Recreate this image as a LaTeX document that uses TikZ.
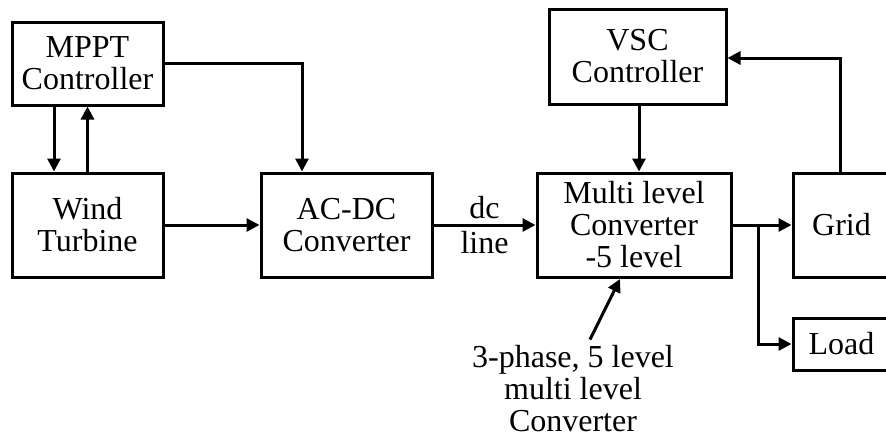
\documentclass[tikz,border=0pt]{standalone}
\usepackage{fontspec}
\setmainfont{Liberation Serif}
\usetikzlibrary{arrows.meta}
\begin{document}
\begin{tikzpicture}[x=1pt,y=-1pt,
  box/.style={draw,line width=3pt,inner sep=0pt,align=center,font=\fontsize{32}{32}\selectfont},
  arr/.style={line width=3pt,-{Triangle[length=13pt,width=13pt]}},
  lbl/.style={inner sep=0pt,align=center,font=\fontsize{32}{32}\selectfont}]
\useasboundingbox (0,0) rectangle (886,439);
\clip (0,0) rectangle (886,439);
\node[box,minimum width=151pt,minimum height=83pt] (mppt) at (87.5,63.5) {MPPT\\Controller};
\node[box,minimum width=151pt,minimum height=104pt] (wind) at (87.5,225) {Wind\\Turbine};
\node[box,minimum width=171pt,minimum height=104pt] (acdc) at (346.5,225) {AC-DC\\Converter};
\node[box,minimum width=177pt,minimum height=95pt] (vsc) at (637.5,56.5) {VSC\\Controller};
\node[box,minimum width=194pt,minimum height=104pt] (mlc) at (634,225) {Multi level\\Converter\\-5 level};
\node[box,minimum width=97pt,minimum height=104pt] (grid) at (841.5,225) {Grid};
\node[box,minimum width=97pt,minimum height=52pt] (load) at (841.5,344) {Load};
\node[lbl] (note) at (573,389) {3-phase, 5 level\\multi level\\Converter};
\coordinate (br) at (758,225);
\coordinate (ntip) at (620,279);
\draw[arr] ([xshift=-33.5pt]mppt.south) -- ([xshift=-33.5pt]wind.north);
\draw[arr] (wind.north) -- (mppt.south);
\draw[arr] (mppt.east) -| ([xshift=-44.5pt]acdc.north);
\draw[arr] (wind.east) -- (acdc.west);
\draw[arr] (acdc.east) -- node[lbl,font=\fontsize{32}{35}\selectfont]{dc\\line} (mlc.west);
\draw[arr] ([xshift=1.5pt]vsc.south) -- ([xshift=1.5pt]vsc.south |- mlc.north);
\draw[arr] (mlc.east) -- (grid.west);
\draw[arr] (br) |- (load.west);
\draw[arr] ([xshift=-1.5pt]grid.north) |- ([yshift=-1.5pt]vsc.east);
\draw[arr] ([xshift=17pt,yshift=6pt]note.north) -- (ntip);
\end{tikzpicture}
\end{document}
